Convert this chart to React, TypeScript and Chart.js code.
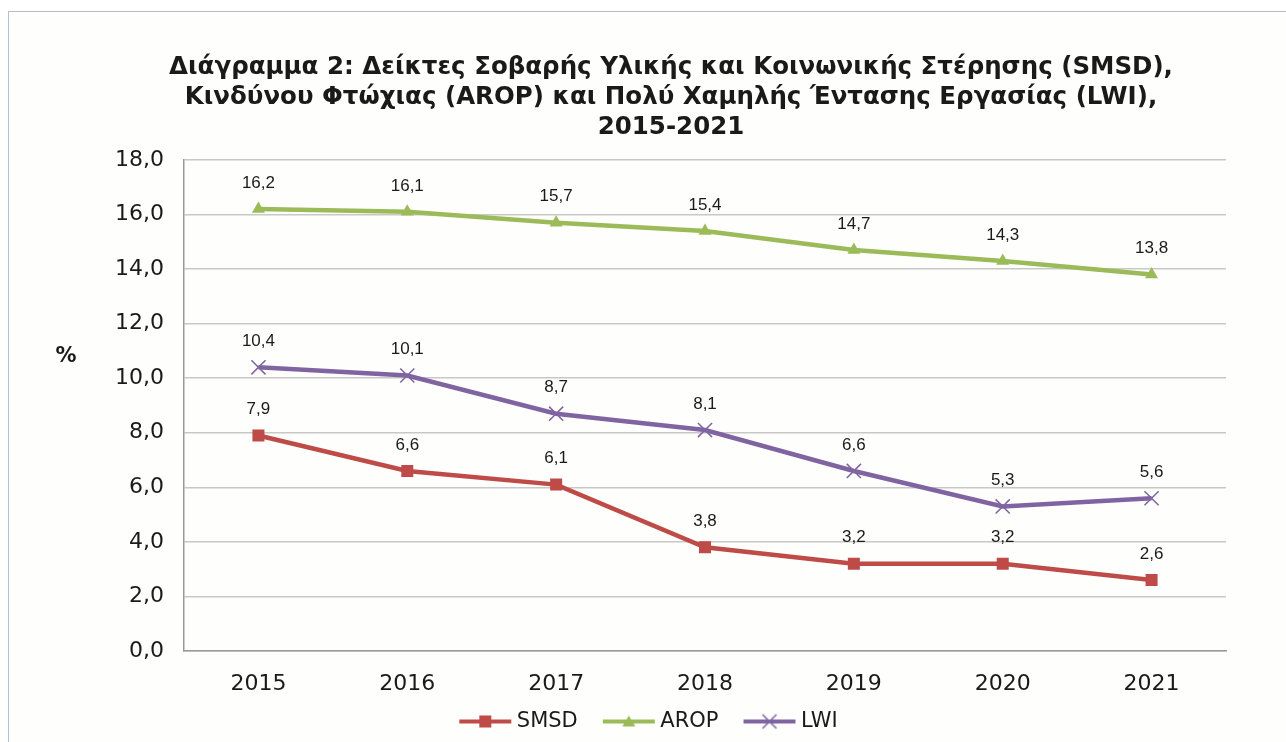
import React, { useEffect, useRef } from "react";
import { Chart, registerables } from "chart.js";

Chart.register(...registerables);

const years = ["2015", "2016", "2017", "2018", "2019", "2020", "2021"];
const smsd = [7.9, 6.6, 6.1, 3.8, 3.2, 3.2, 2.6];
const arop = [16.2, 16.1, 15.7, 15.4, 14.7, 14.3, 13.8];
const lwi = [10.4, 10.1, 8.7, 8.1, 6.6, 5.3, 5.6];
const titleLines = [
  "Διάγραμμα 2: Δείκτες Σοβαρής Υλικής και Κοινωνικής Στέρησης (SMSD),",
  "Κινδύνου Φτώχιας (AROP) και Πολύ Χαμηλής Έντασης Εργασίας (LWI),",
  "2015-2021",
];
const yMin = 0;
const yMax = 18;
const yStep = 2;

const RED = "#BE4B48";
const GREEN = "#9BBB59";
const PURPLE = "#8064A2";

const fmt = (v: number) => v.toFixed(1).replace(".", ",");

function legendImage(color: string, kind: "square" | "triangle" | "cross") {
  const c = document.createElement("canvas");
  c.width = 54;
  c.height = 20;
  const ctx = c.getContext("2d")!;
  ctx.strokeStyle = color;
  ctx.lineWidth = 4;
  ctx.beginPath();
  ctx.moveTo(1, 10);
  ctx.lineTo(53, 10);
  ctx.stroke();
  ctx.fillStyle = color;
  if (kind === "square") {
    ctx.fillRect(21, 4, 12, 12);
  } else if (kind === "triangle") {
    ctx.beginPath();
    ctx.moveTo(27, 4);
    ctx.lineTo(33.5, 15);
    ctx.lineTo(20.5, 15);
    ctx.closePath();
    ctx.fill();
  } else {
    ctx.lineWidth = 1.5;
    ctx.beginPath();
    ctx.moveTo(20, 3);
    ctx.lineTo(34, 17);
    ctx.moveTo(34, 3);
    ctx.lineTo(20, 17);
    ctx.stroke();
  }
  return c;
}

const dataLabelPlugin = {
  id: "dataLabels",
  afterDatasetsDraw(chart: any) {
    const ctx = chart.ctx;
    ctx.save();
    ctx.font = "17px 'Liberation Sans', Arial, sans-serif";
    ctx.fillStyle = "#1a1a1a";
    ctx.textAlign = "center";
    ctx.textBaseline = "middle";
    chart.data.datasets.forEach((ds: any, i: number) => {
      const meta = chart.getDatasetMeta(i);
      meta.data.forEach((pt: any, j: number) => {
        ctx.fillText(fmt(ds.data[j]), pt.x, pt.y - 26);
      });
    });
    ctx.restore();
  },
};

const textPlugin = {
  id: "extraText",
  afterDraw(chart: any) {
    const ctx = chart.ctx;
    const area = chart.chartArea;
    ctx.save();
    ctx.fillStyle = "#1a1a1a";
    ctx.textAlign = "center";
    ctx.textBaseline = "middle";
    // title
    ctx.font = "bold 24.5px 'DejaVu Sans', Verdana, sans-serif";
    const cx = (area.left + area.right) / 2 - 34;
    titleLines.forEach((line, i) => {
      ctx.fillText(line, cx, area.top - 92 + i * 30);
    });
    // y axis unit
    ctx.font = "bold 21px 'DejaVu Sans', Verdana, sans-serif";
    ctx.fillText("%", area.left - 118, area.top + 197);
    ctx.restore();
  },
};

export default function App() {
  const ref = useRef<HTMLCanvasElement>(null);

  useEffect(() => {
    if (!ref.current) return;
    document.body.style.overflow = "hidden";
    const chart = new Chart(ref.current, {
      type: "line",
      data: {
        labels: years,
        datasets: [
          {
            label: "SMSD",
            data: smsd,
            borderColor: RED,
            backgroundColor: RED,
            borderWidth: 4.5,
            pointStyle: "rect",
            pointRadius: 8.5,
            pointBorderWidth: 0,
            pointBackgroundColor: RED,
          },
          {
            label: "AROP",
            data: arop,
            borderColor: GREEN,
            backgroundColor: GREEN,
            borderWidth: 4.5,
            pointStyle: "triangle",
            pointRadius: 7.5,
            pointBorderWidth: 0,
            pointBackgroundColor: GREEN,
          },
          {
            label: "LWI",
            data: lwi,
            borderColor: PURPLE,
            backgroundColor: PURPLE,
            borderWidth: 4.5,
            pointStyle: "crossRot",
            pointRadius: 10,
            pointBorderWidth: 1.5,
            pointBorderColor: PURPLE,
          },
        ],
      },
      options: {
        responsive: false,
        animation: false,
        layout: { padding: { left: 67, right: 60, top: 148, bottom: 0 } },
        plugins: {
          title: { display: false },
          legend: {
            display: true,
            position: "bottom",
            labels: {
              usePointStyle: true,
              pointStyleWidth: 42,
              padding: 10,
              color: "#1a1a1a",
              font: { family: "'DejaVu Sans', Verdana, sans-serif", size: 21 },
              generateLabels: (chart: any) => {
                const kinds: ("square" | "triangle" | "cross")[] = ["square", "triangle", "cross"];
                const colors = [RED, GREEN, PURPLE];
                const n = chart.data.datasets.length;
                return chart.data.datasets.map((ds: any, i: number) => ({
                  text: i < n - 1 ? ds.label + "   " : ds.label,
                  fillStyle: colors[i],
                  strokeStyle: colors[i],
                  lineWidth: 0,
                  pointStyle: legendImage(colors[i], kinds[i]),
                  datasetIndex: i,
                  hidden: false,
                  fontColor: "#1a1a1a",
                }));
              },
            },
          },
          tooltip: { enabled: false },
        },
        scales: {
          x: {
            offset: true,
            grid: { display: false, drawTicks: false },
            border: { display: true, color: "#999999", width: 1.5 },
            ticks: {
              padding: 20,
              color: "#1a1a1a",
              font: { family: "'DejaVu Sans', Verdana, sans-serif", size: 22 },
            },
            afterFit: (scale: any) => {
              scale.height = 50;
            },
          },
          y: {
            min: yMin,
            max: yMax,
            grid: { color: "#c8c8c8", lineWidth: 1.5, drawTicks: false },
            border: { display: true, color: "#999999", width: 1.5 },
            ticks: {
              stepSize: yStep,
              padding: 20,
              color: "#1a1a1a",
              font: { family: "'DejaVu Sans', Verdana, sans-serif", size: 22 },
              callback: (v: any) => fmt(Number(v)),
            },
            afterFit: (scale: any) => {
              scale.width = 108;
            },
          },
        },
      },
      plugins: [dataLabelPlugin, textPlugin],
    } as any);
    return () => chart.destroy();
  }, []);

  return (
    <div
      style={{
        position: "absolute",
        left: 8,
        top: 11,
        width: 1290,
        height: 740,
        borderLeft: "1px solid #b4bfcc",
        borderTop: "1px solid #b4bfcc",
        background: "#fefefd",
      }}
    >
      <canvas ref={ref} width={1277} height={730} style={{ display: "block" }} />
    </div>
  );
}
